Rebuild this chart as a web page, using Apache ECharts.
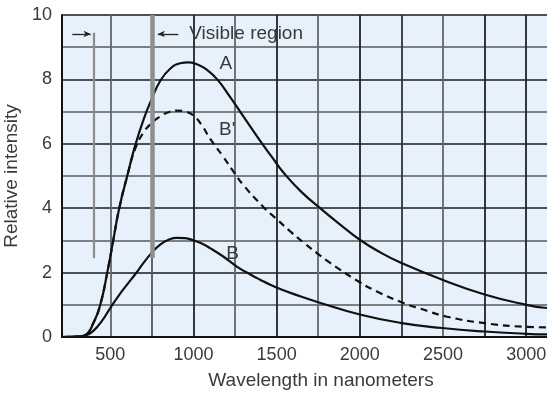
<!DOCTYPE html>
<html>
<head>
<meta charset="utf-8">
<script src="https://cdn.jsdelivr.net/npm/echarts@6/dist/echarts.min.js"></script>
<style>
  html, body { margin: 0; padding: 0; background: #ffffff; }
  #chart { width: 547px; height: 394px; }
</style>
</head>
<body>
<div id="chart"></div>
<script>
// Spectral curves: [wavelength (nm), relative intensity]
const curveA = [
  [210, 0], [300, 0.01], [350, 0.06], [400, 0.45], [440, 1.0], [482, 2.0],
  [518, 3.0], [554, 4.0], [602, 5.0], [650, 5.95], [700, 6.75], [750, 7.4],
  [800, 7.95], [860, 8.33], [920, 8.5], [970, 8.53], [1020, 8.47], [1080, 8.3],
  [1143, 8.0], [1221, 7.45], [1300, 6.85], [1400, 6.1], [1470, 5.6], [1552, 5.04],
  [1650, 4.5], [1762, 4.0], [1880, 3.5], [2000, 3.02], [2125, 2.62],
  [2250, 2.3], [2500, 1.77], [2750, 1.32], [3000, 1.0], [3125, 0.9]
];
const curveBPrime = [
  [210, 0], [300, 0.01], [350, 0.06], [400, 0.45], [440, 1.0], [482, 2.0],
  [518, 3.0], [554, 4.0], [602, 5.0], [650, 5.85], [700, 6.35], [750, 6.65],
  [800, 6.85], [850, 6.98], [900, 7.03], [950, 7.0], [1000, 6.88], [1050, 6.58],
  [1101, 6.15], [1179, 5.6], [1239, 5.15], [1300, 4.72], [1420, 4.04],
  [1492, 3.7], [1582, 3.28], [1660, 2.94], [1744, 2.6], [1822, 2.3],
  [1990, 1.73], [2100, 1.42], [2240, 1.1], [2363, 0.88], [2525, 0.63],
  [2750, 0.43], [2980, 0.32], [3125, 0.3]
];
const curveB = [
  [210, 0], [300, 0.01], [350, 0.04], [400, 0.2], [450, 0.5], [500, 0.9],
  [550, 1.28], [600, 1.62], [650, 1.95], [700, 2.3], [750, 2.62], [800, 2.87],
  [850, 3.02], [900, 3.08], [950, 3.07], [1000, 3.0], [1050, 2.9], [1100, 2.76],
  [1179, 2.5], [1263, 2.18], [1350, 1.92], [1401, 1.78], [1462, 1.62],
  [1521, 1.49], [1600, 1.34], [1750, 1.08], [2000, 0.7], [2243, 0.44],
  [2495, 0.28], [2750, 0.17], [3000, 0.1], [3125, 0.08]
];

// Axis ticks and labels
const xGridValues = [500, 750, 1000, 1250, 1500, 1750, 2000, 2250, 2500, 2750, 3000];
const xLabelValues = [500, 1000, 1500, 2000, 2500, 3000];
const yLabelValues = [0, 2, 4, 6, 8, 10];

// Visible-region bounds (nm) and the heights of its marker lines
const visibleBounds = [400, 750];
const visibleLineBottom = 2.45;
const visibleLineTop = [9.45, 10];
const arrowLevel = 9.41;
const arrowLeft = [272, 382];
const arrowRight = [909, 786];
const visibleText = 'Visible region';
const visibleTextAt = [975, 9.41];

// Curve labels
const curveLabels = [
  { name: 'A', at: [1195, 8.5] },
  { name: "B'", at: [1203, 6.45] },
  { name: 'B', at: [1235, 2.6] }
];

const FONT = '"Liberation Sans", Arial, Helvetica, sans-serif';
const TEXT = '#3a3a3a';

const chart = echarts.init(document.getElementById('chart'), null, { renderer: 'canvas' });

const curveStyle = { color: '#111', width: 2.2 };

chart.setOption({
  animation: false,
  backgroundColor: '#ffffff',
  grid: {
    left: 62, top: 15, right: 0, bottom: 57,
    outerBoundsMode: 'none',
    containLabel: false,
    show: true, backgroundColor: '#e7f1fb', borderWidth: 0
  },
  xAxis: {
    type: 'value',
    min: 210, max: 3125,
    name: 'Wavelength in nanometers',
    nameLocation: 'middle',
    nameGap: 34,
    nameTextStyle: { fontFamily: FONT, fontSize: 19, color: TEXT, padding: [0, 0, 0, 33] },
    axisLine: { show: true, lineStyle: { color: '#111', width: 2 } },
    axisTick: { show: false, customValues: xGridValues },
    axisLabel: {
      customValues: xLabelValues,
      fontFamily: FONT, fontSize: 18, color: TEXT, margin: 9,
      formatter: v => String(v)
    },
    splitLine: {
      show: true,
      lineStyle: {
        width: 1.8,
        color: ['#666', '#555', '#222', '#666', '#222', '#666', '#222', '#333', '#666', '#222', '#222']
      }
    }
  },
  yAxis: {
    type: 'value',
    min: 0, max: 10, interval: 1,
    name: 'Relative intensity',
    nameLocation: 'middle',
    nameGap: 33,
    nameTextStyle: { fontFamily: FONT, fontSize: 19, color: TEXT },
    axisLine: { show: true, lineStyle: { color: '#111', width: 2 } },
    axisTick: { show: false },
    axisLabel: {
      fontFamily: FONT, fontSize: 18, color: TEXT, margin: 10,
      formatter: v => (yLabelValues.indexOf(v) >= 0 ? String(v) : '')
    },
    splitLine: {
      show: true,
      lineStyle: { width: 1.6, color: ['#1a1a1a', '#5a5a5a'] }
    }
  },
  series: [
    {
      // visible-region markers and annotations
      type: 'line',
      data: [],
      z: 1,
      silent: true,
      markLine: {
        silent: true,
        animation: false,
        symbol: ['none', 'none'],
        label: { show: false },
        data: [
          [
            { coord: [visibleBounds[0], visibleLineBottom], lineStyle: { color: '#8c8c8c', width: 2.2, type: 'solid' } },
            { coord: [visibleBounds[0], visibleLineTop[0]] }
          ],
          [
            { coord: [visibleBounds[1], visibleLineBottom], lineStyle: { color: '#8f8f8f', width: 4.5, type: 'solid' } },
            { coord: [visibleBounds[1], visibleLineTop[1]] }
          ],
          [
            { coord: [arrowLeft[0], arrowLevel], symbol: 'none', lineStyle: { color: '#222', width: 1.3, type: 'solid' } },
            { coord: [arrowLeft[1], arrowLevel], symbol: 'arrow', symbolSize: [5, 7] }
          ],
          [
            { coord: [arrowRight[0], arrowLevel], symbol: 'none', lineStyle: { color: '#222', width: 1.3, type: 'solid' } },
            { coord: [arrowRight[1], arrowLevel], symbol: 'arrow', symbolSize: [5, 7] }
          ]
        ]
      },
      markPoint: {
        silent: true,
        animation: false,
        symbol: 'circle',
        symbolSize: 0,
        data: [
          {
            name: visibleText, coord: visibleTextAt,
            label: { show: true, position: 'right', distance: 0, formatter: '{b}',
                     fontFamily: FONT, fontSize: 19, color: TEXT }
          }
        ].concat(curveLabels.map(c => ({
          name: c.name, coord: c.at,
          label: { show: true, position: 'inside', formatter: '{b}',
                   fontFamily: FONT, fontSize: 19, color: TEXT }
        })))
      }
    },
    {
      name: 'A', type: 'line', data: curveA, smooth: 0.5,
      showSymbol: false, z: 3,
      lineStyle: Object.assign({ type: 'solid' }, curveStyle)
    },
    {
      name: "B'", type: 'line', data: curveBPrime, smooth: 0.5,
      showSymbol: false, z: 3,
      lineStyle: Object.assign({ type: [7, 5] }, curveStyle)
    },
    {
      name: 'B', type: 'line', data: curveB, smooth: 0.5,
      showSymbol: false, z: 3,
      lineStyle: Object.assign({ type: 'solid' }, curveStyle)
    }
  ]
});
</script>
</body>
</html>
